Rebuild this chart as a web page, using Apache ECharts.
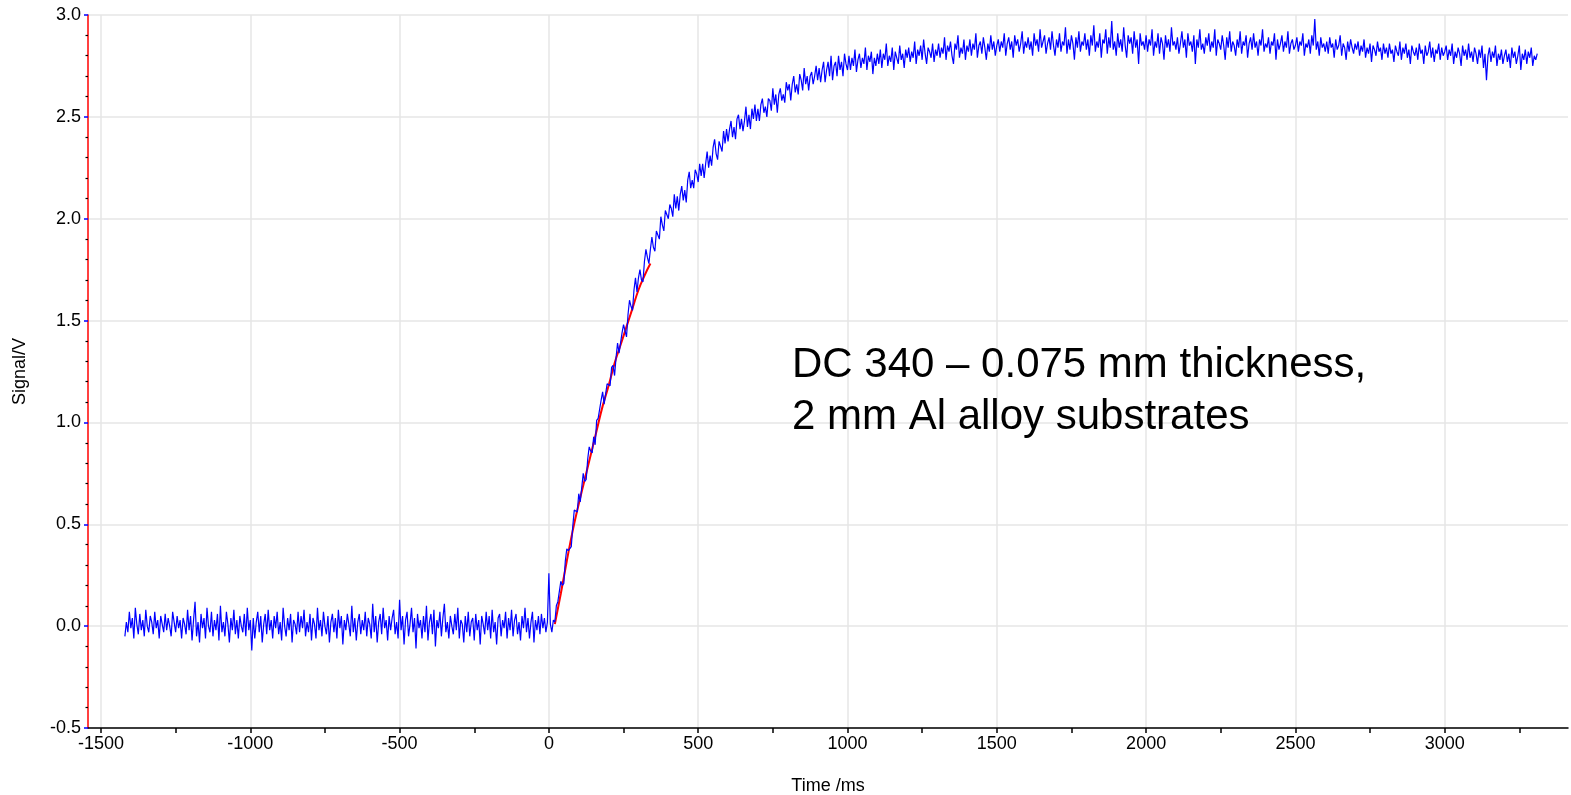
<!DOCTYPE html>
<html>
<head>
<meta charset="utf-8">
<script src="https://cdn.jsdelivr.net/npm/echarts@6/dist/echarts.min.js"></script>
<style>
html,body{margin:0;padding:0;background:#fff;}
#chart{width:1571px;height:795px;}
</style>
</head>
<body>
<div id="chart"></div>
<script>
// ---- data ----
var sampleStart = -1420;   // ms, time of first sample
var sampleStep = 5;        // ms between samples
var baselineValues = [     // -1420 .. -5 ms
  -0.05,0.02,-0.03,0.07,-0.01,0.04,-0.06,0.09,0.01,-0.04,0.06,-0.02,0.03,-0.05,0.08,0.00,-0.03,0.05,0.02,-0.04,
  0.07,-0.01,0.03,-0.06,0.05,0.01,-0.03,0.06,-0.02,0.04,0.00,-0.05,0.07,0.02,-0.03,0.05,-0.01,0.03,-0.06,0.04,
  0.01,-0.04,0.08,-0.02,0.05,-0.07,0.03,0.12,-0.05,0.02,-0.08,0.06,-0.01,0.04,-0.06,0.09,0.00,-0.03,0.07,-0.05,
  0.03,-0.02,0.06,-0.07,0.10,-0.03,0.02,-0.05,0.07,0.01,-0.08,0.04,-0.02,0.08,-0.04,0.03,-0.06,0.05,0.00,-0.03,
  0.06,-0.05,0.09,-0.02,0.03,-0.12,0.04,-0.06,0.02,0.07,-0.03,0.05,-0.08,0.01,0.06,-0.04,0.08,-0.02,0.03,-0.06,
  0.05,-0.01,0.07,-0.04,0.02,-0.07,0.09,0.00,-0.05,0.04,-0.02,0.06,-0.08,0.03,0.01,-0.04,0.07,-0.03,0.05,-0.01,
  0.08,-0.05,0.02,-0.03,0.06,-0.07,0.04,0.01,-0.06,0.09,-0.02,0.03,-0.05,0.07,0.00,-0.04,0.05,-0.08,0.02,0.06,
  -0.03,0.04,-0.06,0.08,-0.01,0.05,-0.09,0.03,-0.02,0.06,0.01,-0.05,0.10,-0.03,0.04,-0.07,0.02,0.06,-0.04,0.03,
  -0.02,0.07,-0.05,0.04,0.01,-0.06,0.11,-0.03,0.05,-0.08,0.02,0.06,-0.04,0.09,-0.01,0.03,-0.07,0.05,-0.02,0.04,
  0.08,-0.04,0.02,-0.06,0.13,-0.02,0.05,-0.09,0.03,0.07,-0.05,0.01,0.09,-0.03,0.04,-0.11,0.06,-0.01,0.03,-0.06,
  0.05,-0.03,0.10,-0.07,0.02,0.06,-0.04,0.08,-0.10,0.03,-0.01,0.07,-0.05,0.04,0.11,-0.03,0.02,-0.06,0.05,0.00,
  -0.04,0.06,-0.02,0.09,-0.06,0.03,0.01,-0.08,0.05,-0.03,0.07,-0.05,0.02,0.04,-0.07,0.06,-0.02,0.03,-0.09,0.05,
  0.01,-0.04,0.07,-0.02,0.05,-0.06,0.08,-0.03,0.02,-0.09,0.04,0.06,-0.05,0.03,-0.01,0.07,-0.06,0.04,-0.02,0.08,
  -0.05,0.03,0.06,-0.04,0.02,-0.07,0.05,-0.01,0.09,-0.03,0.04,-0.06,0.02,0.07,-0.08,0.03,-0.02,0.05,-0.04,0.06,
  -0.01,0.04,-0.03,0.02
];
var triggerValue = [0.26];  // 0 ms
var riseValues = [          // 5 .. 1000 ms
  0.01,-0.03,0.03,0.02,0.10,0.12,0.12,0.22,0.20,0.21,0.32,0.38,0.37,0.37,0.39,0.49,0.57,0.57,0.56,0.65,
  0.61,0.68,0.75,0.71,0.72,0.82,0.88,0.86,0.85,0.93,0.89,1.01,1.02,1.02,1.11,1.15,1.09,1.09,1.19,1.19,
  1.18,1.27,1.28,1.23,1.32,1.39,1.34,1.34,1.44,1.48,1.45,1.42,1.53,1.60,1.57,1.55,1.65,1.71,1.64,1.71,
  1.75,1.70,1.69,1.79,1.85,1.81,1.78,1.85,1.91,1.86,1.84,1.94,1.94,1.90,2.01,1.97,1.94,2.04,2.04,2.00,
  2.07,2.05,2.01,2.12,2.05,2.11,2.04,2.12,2.16,2.09,2.14,2.08,2.19,2.23,2.15,2.19,2.15,2.24,2.22,2.18,
  2.27,2.21,2.27,2.20,2.27,2.33,2.25,2.31,2.26,2.35,2.39,2.32,2.29,2.38,2.38,2.33,2.43,2.37,2.44,2.38,
  2.44,2.48,2.40,2.45,2.39,2.49,2.51,2.44,2.49,2.43,2.48,2.55,2.45,2.51,2.44,2.54,2.49,2.56,2.48,2.54,
  2.48,2.56,2.59,2.52,2.55,2.50,2.59,2.58,2.53,2.64,2.56,2.61,2.52,2.61,2.64,2.58,2.61,2.57,2.67,2.63,
  2.66,2.58,2.66,2.70,2.62,2.66,2.61,2.71,2.68,2.63,2.74,2.66,2.70,2.63,2.70,2.72,2.66,2.70,2.75,2.68,
  2.74,2.67,2.73,2.77,2.67,2.73,2.77,2.70,2.80,2.68,2.75,2.77,2.70,2.80,2.73,2.77,2.70,2.81,2.76,2.73
];
var plateauValues = [       // 1005 .. 3310 ms
  2.80,2.73,2.79,2.75,2.83,2.72,2.78,2.81,2.74,2.79,2.76,2.84,2.73,2.80,2.77,2.82,2.71,2.79,2.75,2.81,
  2.76,2.83,2.74,2.81,2.78,2.86,2.75,2.80,2.77,2.84,2.73,2.82,2.79,2.76,2.85,2.78,2.81,2.74,2.83,2.79,
  2.84,2.77,2.82,2.79,2.87,2.76,2.83,2.80,2.85,2.78,2.88,2.81,2.76,2.84,2.82,2.79,2.86,2.77,2.83,2.80,
  2.86,2.79,2.84,2.81,2.89,2.78,2.85,2.82,2.87,2.80,2.76,2.86,2.83,2.90,2.79,2.84,2.81,2.88,2.78,2.85,
  2.82,2.88,2.80,2.86,2.83,2.91,2.79,2.85,2.87,2.81,2.89,2.84,2.78,2.86,2.82,2.90,2.83,2.87,2.80,2.85,
  2.88,2.82,2.87,2.84,2.91,2.80,2.86,2.89,2.83,2.87,2.79,2.90,2.85,2.88,2.82,2.86,2.92,2.81,2.87,2.84,
  2.89,2.83,2.87,2.80,2.91,2.85,2.88,2.82,2.93,2.84,2.87,2.90,2.81,2.86,2.89,2.83,2.92,2.85,2.80,2.88,
  2.84,2.91,2.82,2.87,2.85,2.94,2.81,2.88,2.83,2.90,2.86,2.78,2.89,2.84,2.92,2.82,2.87,2.85,2.91,2.83,
  2.88,2.80,2.90,2.85,2.95,2.82,2.87,2.84,2.91,2.79,2.88,2.86,2.93,2.81,2.89,2.84,2.97,2.83,2.87,2.80,
  2.91,2.84,2.88,2.82,2.94,2.85,2.79,2.90,2.86,2.89,2.81,2.92,2.84,2.88,2.76,2.91,2.85,2.87,2.83,2.90,
  2.82,2.88,2.85,2.93,2.80,2.87,2.84,2.91,2.81,2.89,2.86,2.78,2.90,2.84,2.88,2.82,2.94,2.85,2.87,2.83,
  2.89,2.81,2.86,2.92,2.84,2.88,2.79,2.91,2.85,2.87,2.82,2.90,2.76,2.88,2.84,2.93,2.83,2.86,2.81,2.89,
  2.85,2.91,2.82,2.87,2.84,2.93,2.80,2.88,2.86,2.83,2.90,2.85,2.78,2.89,2.84,2.92,2.82,2.87,2.85,2.80,
  2.88,2.84,2.92,2.81,2.87,2.85,2.90,2.79,2.86,2.89,2.83,2.91,2.84,2.87,2.80,2.88,2.85,2.93,2.82,2.86,
  2.84,2.89,2.81,2.87,2.85,2.91,2.78,2.88,2.83,2.86,2.90,2.82,2.87,2.84,2.92,2.81,2.86,2.88,2.83,2.85,
  2.89,2.82,2.87,2.85,2.91,2.80,2.86,2.84,2.88,2.81,2.90,2.85,2.98,2.83,2.87,2.80,2.89,2.84,2.86,2.82,
  2.87,2.81,2.89,2.84,2.86,2.79,2.88,2.83,2.85,2.90,2.80,2.86,2.84,2.78,2.87,2.82,2.88,2.84,2.81,2.86,
  2.83,2.87,2.80,2.85,2.82,2.88,2.79,2.84,2.81,2.86,2.77,2.85,2.83,2.80,2.87,2.82,2.84,2.78,2.86,2.81,
  2.84,2.79,2.86,2.81,2.83,2.77,2.85,2.82,2.80,2.87,2.78,2.84,2.81,2.86,2.79,2.83,2.76,2.85,2.82,2.80,
  2.84,2.78,2.86,2.81,2.83,2.76,2.85,2.80,2.82,2.87,2.79,2.84,2.77,2.83,2.81,2.86,2.78,2.84,2.80,2.82,
  2.85,2.78,2.83,2.80,2.86,2.76,2.82,2.79,2.84,2.81,2.75,2.85,2.80,2.83,2.78,2.86,2.79,2.82,2.77,2.84,
  2.81,2.76,2.83,2.79,2.85,2.74,2.81,2.68,2.80,2.84,2.77,2.82,2.79,2.85,2.75,2.81,2.78,2.83,2.76,2.80,
  2.83,2.77,2.81,2.74,2.84,2.79,2.82,2.76,2.80,2.85,2.73,2.81,2.78,2.83,2.76,2.82,2.79,2.84,2.75,2.80,
  2.78,2.81
];
var fitTime  = [20, 40, 60, 80, 100, 120, 140, 160, 180, 200, 220, 240, 260, 280, 300, 320, 340];
var fitValue = [0.01, 0.16, 0.32, 0.47, 0.60, 0.72, 0.84, 0.96, 1.08, 1.18, 1.29, 1.38, 1.47, 1.56, 1.65, 1.72, 1.78];
var xAxisTitle = 'Time /ms';
var yAxisTitle = 'Signal/V';
var annotationLines = ['DC 340 \u2013 0.075 mm thickness,', '2 mm Al alloy substrates'];

// ---- build ----
var signalValues = baselineValues.concat(triggerValue, riseValues, plateauValues);
var signalData = signalValues.map(function (v, i) { return [sampleStart + i * sampleStep, v]; });
var fitData = fitTime.map(function (t, i) { return [t, fitValue[i]]; });

var font = 'Liberation Sans, Arial, sans-serif';
var chart = echarts.init(document.getElementById('chart'), null, {renderer: 'canvas'});
var gridTop = 15, gridBottom = 67;
var hiddenY = {type: 'value', min: -0.5, max: 3.0, show: false};
var labelSize = 18;

chart.setOption({
  animation: false,
  backgroundColor: '#ffffff',
  grid: [
    {left: 88, right: 3, top: gridTop, bottom: gridBottom, containLabel: false, outerBoundsMode: 'none'},      // data grid
    {left: 101, right: 51.6, top: gridTop, bottom: gridBottom, containLabel: false, outerBoundsMode: 'none'},  // x ticks & labels
    {left: 101, right: 126.3, top: gridTop, bottom: gridBottom, containLabel: false, outerBoundsMode: 'none'}  // vertical grid lines
  ],
  xAxis: [
    {
      gridIndex: 0, type: 'value', min: -1543.5, max: 3413,
      axisLine: {show: true, onZero: false, lineStyle: {color: '#000', width: 1.5}},
      axisTick: {show: false}, axisLabel: {show: false}, splitLine: {show: false},
      name: xAxisTitle, nameLocation: 'middle', nameGap: 49,
      nameTextStyle: {fontFamily: font, fontSize: labelSize, color: '#000'}
    },
    {
      gridIndex: 1, type: 'value', min: -1500, max: 3250, interval: 250,
      axisLine: {show: false, onZero: false},
      axisTick: {show: true, length: 5, lineStyle: {color: '#000', width: 1.5}},
      axisLabel: {
        show: true, margin: 7, fontFamily: font, fontSize: labelSize, color: '#000',
        formatter: function (v) { return (Math.round(v) % 500 === 0) ? String(v) : ''; }
      },
      splitLine: {show: false}
    },
    {
      gridIndex: 2, type: 'value', min: -1500, max: 3000, interval: 500,
      axisLine: {show: false, onZero: false}, axisTick: {show: false}, axisLabel: {show: false},
      splitLine: {show: true, lineStyle: {color: '#e6e6e6', width: 1.5}}
    }
  ],
  yAxis: [
    {
      gridIndex: 0, type: 'value', min: -0.5, max: 3.0, interval: 0.5,
      axisLine: {show: true, onZero: false, lineStyle: {color: '#ff0000', width: 1.5}},
      axisTick: {show: true, length: 4, lineStyle: {color: '#0000ff', width: 1.5}},
      minorTick: {show: true, splitNumber: 5, length: 2.5, lineStyle: {color: '#000', width: 1.2}},
      axisLabel: {
        margin: 7, fontFamily: font, fontSize: labelSize, color: '#000',
        formatter: function (v) { return v.toFixed(1); }
      },
      splitLine: {show: true, lineStyle: {color: '#e6e6e6', width: 1.5}},
      name: yAxisTitle, nameLocation: 'middle', nameGap: 59, nameRotate: 90,
      nameTextStyle: {fontFamily: font, fontSize: labelSize, color: '#000'}
    },
    Object.assign({gridIndex: 1}, hiddenY),
    Object.assign({gridIndex: 2}, hiddenY)
  ],
  graphic: [{
    type: 'text', left: 792, top: 339, z: 10,
    style: {
      text: annotationLines.join('\n'),
      font: '42px ' + font, fill: '#000', lineHeight: 52
    }
  }],
  series: [
    {
      type: 'line', xAxisIndex: 0, yAxisIndex: 0, data: fitData,
      showSymbol: false, smooth: true, z: 2,
      lineStyle: {color: '#ff0000', width: 2}
    },
    {
      type: 'line', xAxisIndex: 0, yAxisIndex: 0, data: signalData,
      showSymbol: false, z: 3, sampling: null,
      lineStyle: {color: '#0000ff', width: 1.2}
    }
  ]
});
</script>
</body>
</html>
